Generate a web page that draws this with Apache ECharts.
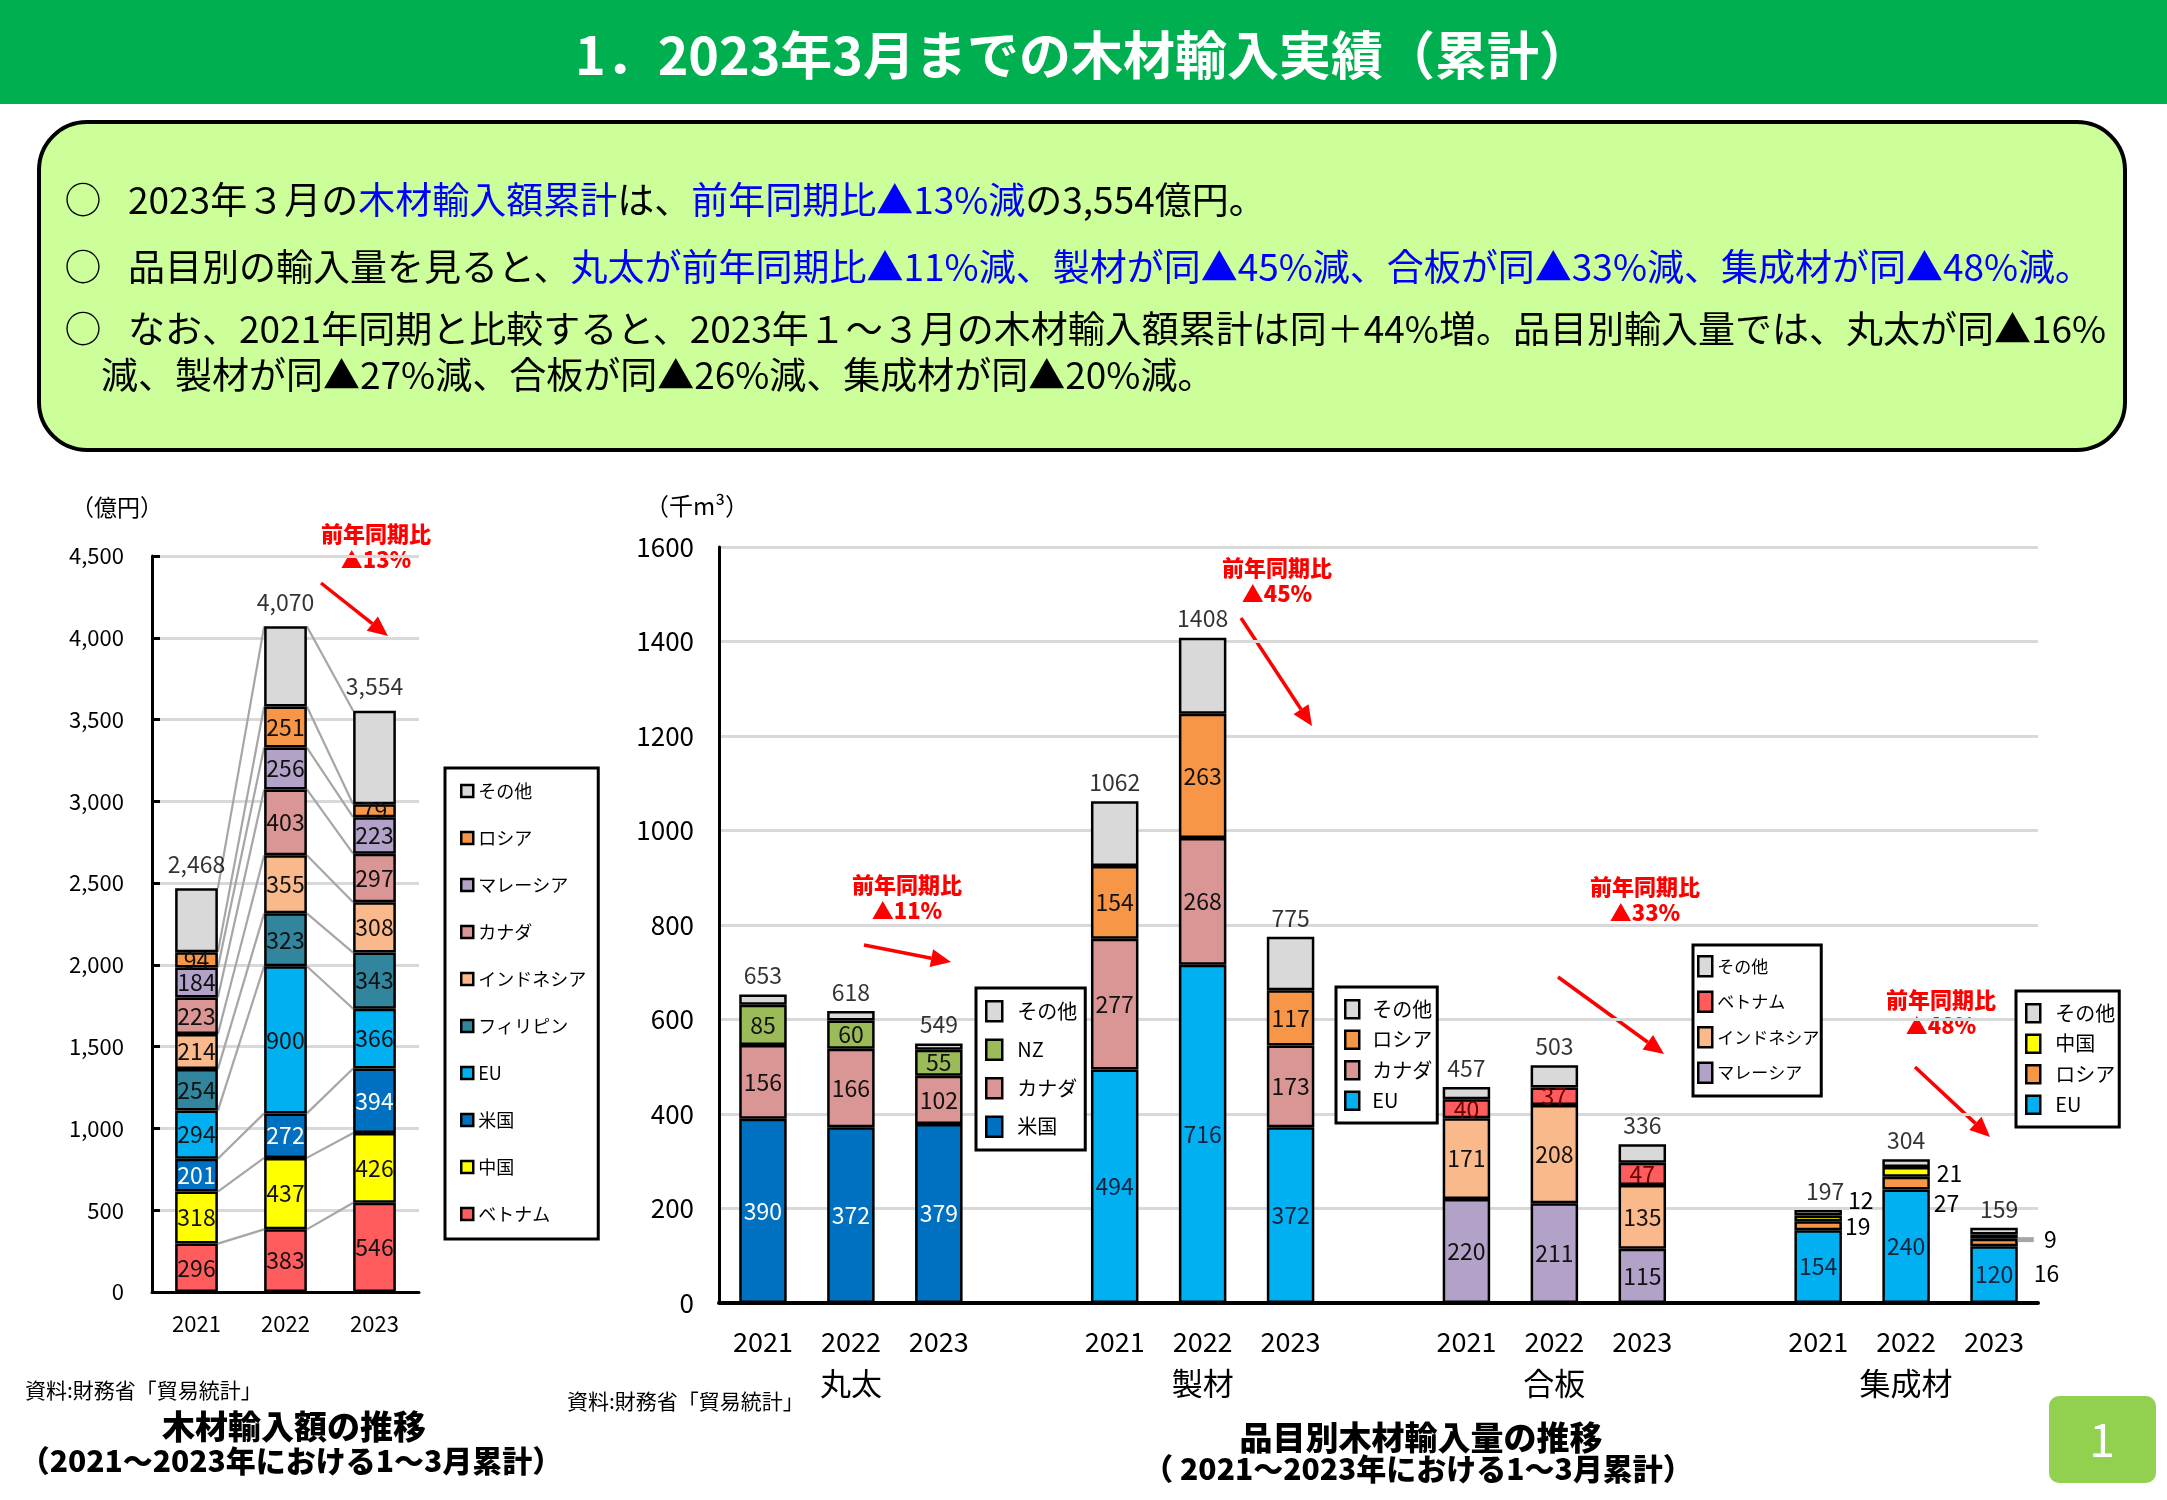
<!DOCTYPE html>
<html><head><meta charset="utf-8">
<script src="https://cdn.jsdelivr.net/npm/echarts@6/dist/echarts.min.js"></script>
<style>html,body{margin:0;padding:0;background:#fff}#c{width:2167px;height:1500px}</style>
</head><body><div id="c"></div>
<script>
const FONT = '"Noto Sans CJK JP", "Noto Sans", sans-serif';

// ---------- Left chart: 木材輸入額 (億円) ----------
const amtYears = ['2021', '2022', '2023'];
const amtVietnam = [296, 383, 546];
const amtChina = [318, 437, 426];
const amtUS = [201, 272, 394];
const amtEU = [294, 900, 366];
const amtPhilippines = [254, 323, 343];
const amtIndonesia = [214, 355, 308];
const amtCanada = [223, 403, 297];
const amtMalaysia = [184, 256, 223];
const amtRussia = [94, 251, 79];
const amtOther = [390, 490, 572];
const amtTotal = [2468, 4070, 3554];

// ---------- Right chart: 品目別木材輸入量 (千m3) ----------
const volGroups = ['丸太', '製材', '合板', '集成材'];
const volYears = ['2021', '2022', '2023'];
const marutaUS = [390, 372, 379];
const marutaCanada = [156, 166, 102];
const marutaNZ = [85, 60, 55];
const marutaOther = [22, 20, 13];
const marutaTotal = [653, 618, 549];
const seizaiEU = [494, 716, 372];
const seizaiCanada = [277, 268, 173];
const seizaiRussia = [154, 263, 117];
const seizaiOther = [137, 161, 113];
const seizaiTotal = [1062, 1408, 775];
const gohanMalaysia = [220, 211, 115];
const gohanIndonesia = [171, 208, 135];
const gohanVietnam = [40, 37, 47];
const gohanOther = [26, 47, 39];
const gohanTotal = [457, 503, 336];
const shuseiEU = [154, 240, 120];
const shuseiRussia = [19, 27, 16];
const shuseiChina = [12, 21, 9];
const shuseiOther = [12, 16, 14];
const shuseiTotal = [197, 304, 159];

// ---------- styles ----------
const COL = {
  'ベトナム': '#FF5D5D', '中国': '#FFFF00', '米国': '#0070C0', 'EU': '#00B0F0',
  'フィリピン': '#31859C', 'インドネシア': '#FAB98B', 'カナダ': '#D99694',
  'マレーシア': '#B3A2C7', 'ロシア': '#F79646', 'その他': '#D9D9D9', 'NZ': '#9BBB59'
};
const LBLCOL = { '米国': '#FFFFFF', 'EU': '#14213D', 'ベトナム': '#6A0000' };
const AMT_BAR = 0.48, VOL_BAR = 0.54;
const LBL = 23;

const amtParts = [
  ['ベトナム', amtVietnam], ['中国', amtChina], ['米国', amtUS], ['EU', amtEU],
  ['フィリピン', amtPhilippines], ['インドネシア', amtIndonesia], ['カナダ', amtCanada],
  ['マレーシア', amtMalaysia], ['ロシア', amtRussia], ['その他', amtOther]
];
const volDefs = [
  { parts: [['米国', marutaUS], ['カナダ', marutaCanada], ['NZ', marutaNZ], ['その他', marutaOther]], total: marutaTotal },
  { parts: [['EU', seizaiEU], ['カナダ', seizaiCanada], ['ロシア', seizaiRussia], ['その他', seizaiOther]], total: seizaiTotal },
  { parts: [['マレーシア', gohanMalaysia], ['インドネシア', gohanIndonesia], ['ベトナム', gohanVietnam], ['その他', gohanOther]], total: gohanTotal },
  { parts: [['EU', shuseiEU], ['ロシア', shuseiRussia], ['中国', shuseiChina], ['その他', shuseiOther]], total: shuseiTotal }
];
// outside-label placement for small 集成材 segments
const shuseiLabelPos = {
  'ロシア': [{ offset: [0, 1], distance: 3 }, { offset: [0, 20], distance: 4 }, { offset: [0, 31], distance: 16 }],
  '中国': [{ offset: [0, -18], distance: 6 }, { offset: [0, 1], distance: 7 }, { offset: [0, 3], distance: 0, line: true }]
};
const totalOffsetX = [7, 0, 5]; // 集成材 totals shifted slightly

const volKeys = [];
volGroups.forEach((g, gi) => {
  volYears.forEach(y => volKeys.push(g + y));
  if (gi < volGroups.length - 1) volKeys.push('gap' + gi);
});
const slotOf = (gi, yi) => gi * 4 + yi;

const series = [];
// connector lines (left chart)
series.push({
  type: 'custom', xAxisIndex: 0, yAxisIndex: 0, z: 1, silent: true,
  data: [[0, 0], [1, 0]], encode: { x: 0, y: 1 },
  renderItem: function (params, api) {
    const i = api.value(0);
    const half = api.size([1, 0])[0] * AMT_BAR / 2;
    const children = [];
    let ca = 0, cb = 0;
    amtParts.forEach(p => {
      ca += p[1][i]; cb += p[1][i + 1];
      const a = api.coord([i, ca]), b = api.coord([i + 1, cb]);
      children.push({ type: 'line', shape: { x1: a[0] + half, y1: a[1], x2: b[0] - half, y2: b[1] },
        style: { stroke: '#A6A6A6', lineWidth: 2.2 } });
    });
    return { type: 'group', children: children };
  }
});
amtParts.forEach(([name, arr]) => {
  series.push({
    name: name, type: 'bar', stack: 'amt', xAxisIndex: 0, yAxisIndex: 0, z: 3,
    barWidth: (AMT_BAR * 100) + '%',
    itemStyle: { color: COL[name], borderColor: '#000', borderWidth: 2.5 },
    label: { show: name !== 'その他', position: 'inside', fontSize: LBL, fontFamily: FONT,
      color: name === '米国' ? '#FFFFFF' : '#111' },
    data: arr.slice()
  });
});
series.push({
  type: 'scatter', xAxisIndex: 0, yAxisIndex: 0, symbolSize: 1, z: 5, silent: true,
  itemStyle: { color: 'rgba(0,0,0,0)' },
  label: { show: true, position: 'top', distance: 12, fontSize: 23, fontFamily: FONT, color: '#000',
    formatter: p => p.value[1].toLocaleString('en-US') },
  data: amtTotal.map((t, i) => [i, t])
});

// right chart series (single stack: each group occupies its own slots)
volDefs.forEach((def, gi) => {
  def.parts.forEach(([name, arr]) => {
    const data = new Array(volKeys.length).fill(null);
    arr.forEach((v, yi) => {
      let item = { value: v };
      if (gi === 3 && shuseiLabelPos[name]) {
        const lp = shuseiLabelPos[name][yi];
        item.label = {
          show: true, position: 'right', distance: lp.distance, offset: lp.offset, color: '#000',
          formatter: lp.line ? '{ln|}  {t|' + v + '}' : '{t|' + v + '}',
          rich: { ln: { backgroundColor: '#A6A6A6', width: 16, height: 5 }, t: { fontSize: LBL, fontFamily: FONT, color: '#000' } }
        };
      }
      data[slotOf(gi, yi)] = item;
    });
    series.push({
      name: name, type: 'bar', stack: 'vol', xAxisIndex: 1, yAxisIndex: 1, z: 3,
      barWidth: (VOL_BAR * 100) + '%',
      itemStyle: { color: COL[name], borderColor: '#000', borderWidth: 2.5 },
      label: { show: name !== 'その他' && !(gi === 3 && name !== 'EU'), position: 'inside', fontSize: LBL,
        fontFamily: FONT, color: LBLCOL[name] || '#111' },
      data: data
    });
  });
});
const volTotalsData = [];
volDefs.forEach((def, gi) => def.total.forEach((t, yi) => {
  const item = { value: [slotOf(gi, yi), t] };
  if (gi === 3) item.label = { offset: [totalOffsetX[yi], 0] };
  volTotalsData.push(item);
}));
series.push({
  type: 'scatter', xAxisIndex: 1, yAxisIndex: 1, symbolSize: 1, z: 5, silent: true,
  itemStyle: { color: 'rgba(0,0,0,0)' },
  label: { show: true, position: 'top', distance: 7, fontSize: 23, fontFamily: FONT, color: '#000',
    formatter: p => String(p.value[1]) },
  data: volTotalsData
});

// ---------- legends ----------
function legend(names, left, top, o) {
  return Object.assign({
    data: names, left: left, top: top, orient: 'vertical', icon: 'rect', selectedMode: false,
    backgroundColor: '#fff', borderColor: '#000', borderWidth: 3,
    itemStyle: { borderColor: '#000', borderWidth: 2.5 },
    textStyle: { fontFamily: FONT, fontSize: 18, color: '#000' }
  }, o);
}
const legends = [
  legend(['その他', 'ロシア', 'マレーシア', 'カナダ', 'インドネシア', 'フィリピン', 'EU', '米国', '中国', 'ベトナム'], 445, 768,
    { itemWidth: 12, itemHeight: 12, itemGap: 29, padding: [14, 12, 16, 15], textStyle: { fontFamily: FONT, fontSize: 18, color: '#000' } }),
  legend(['その他', 'NZ', 'カナダ', '米国'], 976, 988,
    { itemWidth: 16, itemHeight: 20, itemGap: 16, padding: [12, 8, 12, 9], textStyle: { fontFamily: FONT, fontSize: 20, color: '#000', padding: [0, 0, 0, 10] } }),
  legend(['その他', 'ロシア', 'カナダ', 'EU'], 1336, 987,
    { itemWidth: 14, itemHeight: 18, itemGap: 10, padding: [12, 5, 12, 8], textStyle: { fontFamily: FONT, fontSize: 20, color: '#000', padding: [0, 0, 0, 8] } }),
  legend(['その他', 'ベトナム', 'インドネシア', 'マレーシア'], 1693, 945,
    { itemWidth: 14, itemHeight: 20, itemGap: 13, padding: [10, 2, 12, 4], textStyle: { fontFamily: FONT, fontSize: 17, color: '#000' } }),
  legend(['その他', '中国', 'ロシア', 'EU'], 2016, 991,
    { itemWidth: 14, itemHeight: 18, itemGap: 10, padding: [12, 4, 12, 9], textStyle: { fontFamily: FONT, fontSize: 20, color: '#000', padding: [0, 0, 0, 10] } })
];

// ---------- decorations ----------
function txt(x, y, text, font, fill, align, extra) {
  return Object.assign({ type: 'text', x: x, y: y, silent: true,
    style: Object.assign({ text: text, font: font, fill: fill, align: align || 'left', textAlign: align || 'left',
      verticalAlign: 'middle', textVerticalAlign: 'middle' }, extra || {}) });
}
function arrow(x1, y1, x2, y2) {
  const a = Math.atan2(y2 - y1, x2 - x1), hl = 20, hw = 9;
  const bx = x2 - hl * Math.cos(a), by = y2 - hl * Math.sin(a);
  const px = -Math.sin(a) * hw, py = Math.cos(a) * hw;
  return [
    { type: 'line', silent: true, shape: { x1: x1, y1: y1, x2: bx, y2: by }, style: { stroke: '#FF0000', lineWidth: 3.5 } },
    { type: 'polygon', silent: true, shape: { points: [[x2, y2], [bx + px, by + py], [bx - px, by - py]] }, style: { fill: '#FF0000' } }
  ];
}
function note(x, y, pct) {
  const f = '900 22px ' + FONT;
  return [txt(x, y, '前年同期比', f, '#FF0000', 'center'), txt(x, y + 26, '▲' + pct, f, '#FF0000', 'center')];
}
const BF = '37px ' + FONT;
const rich = { k: { fill: '#000' }, b: { fill: '#0000FF' } };
const graphics = [
  { type: 'rect', silent: true, shape: { x: 0, y: 0, width: 2167, height: 104 }, style: { fill: '#00B050' } },
  txt(1083, 55, '1．2023年3月までの木材輸入実績（累計）', 'bold 52px ' + FONT, '#FFFFFF', 'center'),
  { type: 'rect', silent: true, shape: { x: 39, y: 122, width: 2086, height: 328, r: 48 }, style: { fill: '#CCFF99', stroke: '#000', lineWidth: 4 } },
  txt(83, 200, '○', BF, '#000', 'center'),
  txt(128, 200, '{k|2023年３月の}{b|木材輸入額累計}{k|は、}{b|前年同期比▲13%減}{k|の3,554億円。}', BF, '#000', 'left', { rich: rich }),
  txt(83, 267, '○', BF, '#000', 'center'),
  txt(128, 267, '{k|品目別の輸入量を見ると、}{b|丸太が前年同期比▲11%減、製材が同▲45%減、合板が同▲33%減、集成材が同▲48%減。}', BF, '#000', 'left', { rich: rich }),
  txt(83, 329, '○', BF, '#000', 'center'),
  txt(128, 329, 'なお、2021年同期と比較すると、2023年１～３月の木材輸入額累計は同＋44%増。品目別輸入量では、丸太が同▲16%', BF, '#000', 'left'),
  txt(101, 375, '減、製材が同▲27%減、合板が同▲26%減、集成材が同▲20%減。', BF, '#000', 'left'),
  txt(117, 507, '（億円）', '23px ' + FONT, '#000', 'center'),
  txt(697, 506, '（千m³）', '24px ' + FONT, '#000', 'center'),
  txt(25, 1390, '資料:財務省「貿易統計」', '21px ' + FONT, '#000', 'left'),
  txt(567, 1401, '資料:財務省「貿易統計」', '21px ' + FONT, '#000', 'left'),
  txt(294, 1426, '木材輸入額の推移', '900 33px ' + FONT, '#000', 'center'),
  txt(291, 1461, '（2021～2023年における1～3月累計）', '900 30px ' + FONT, '#000', 'center'),
  txt(1421, 1437, '品目別木材輸入量の推移', '900 33px ' + FONT, '#000', 'center'),
  txt(1418, 1469, '（ 2021～2023年における1～3月累計）', '900 30px ' + FONT, '#000', 'center'),
  { type: 'rect', silent: true, shape: { x: 2049, y: 1396, width: 107, height: 87, r: 10 }, style: { fill: '#92D050' } },
  txt(2102, 1440, '1', '46px ' + FONT, '#FFFFFF', 'center')
]
  .concat(note(376, 534, '13%'), arrow(321, 583, 388, 636))
  .concat(note(907, 885, '11%'), arrow(864, 945, 951, 962))
  .concat(note(1277, 568, '45%'), arrow(1241, 618, 1312, 726))
  .concat(note(1645, 887, '33%'), arrow(1558, 977, 1664, 1054))
  .concat(note(1941, 1000, '48%'), arrow(1915, 1067, 1990, 1137));

const option = {
  backgroundColor: '#fff',
  animation: false,
  textStyle: { fontFamily: FONT },
  grid: [
    { left: 152, top: 556, width: 267, height: 736 },
    { left: 719, top: 547, width: 1319, height: 756 }
  ],
  xAxis: [
    { type: 'category', gridIndex: 0, data: amtYears,
      axisLine: { lineStyle: { color: '#000', width: 3 } }, axisTick: { show: false },
      axisLabel: { fontSize: 22, color: '#000', margin: 21, fontFamily: FONT } },
    { type: 'category', gridIndex: 1, data: volKeys,
      axisLine: { lineStyle: { color: '#000', width: 4 } }, axisTick: { show: false },
      axisLabel: { interval: 0, margin: 22, color: '#000',
        formatter: (v, idx) => {
          if (idx % 4 === 3) return '';
          let s = '{y|' + volYears[idx % 4] + '}';
          if (idx % 4 === 1) s += '\n{g|' + volGroups[Math.floor(idx / 4)] + '}';
          return s;
        },
        rich: { y: { fontSize: 27, lineHeight: 34, fontFamily: FONT, color: '#000' },
                g: { fontSize: 31, lineHeight: 48, fontFamily: FONT, color: '#000' } } } }
  ],
  yAxis: [
    { type: 'value', gridIndex: 0, min: 0, max: 4500, interval: 500,
      axisLine: { show: true, lineStyle: { color: '#000', width: 3 } },
      axisTick: { show: true, inside: true, length: 8, lineStyle: { color: '#000', width: 3 } },
      axisLabel: { fontSize: 22, color: '#000', margin: 28, fontFamily: FONT, formatter: v => v.toLocaleString('en-US') },
      splitLine: { lineStyle: { color: '#D9D9D9', width: 3 } } },
    { type: 'value', gridIndex: 1, min: 0, max: 1600, interval: 200,
      axisLine: { show: true, lineStyle: { color: '#000', width: 3 } },
      axisTick: { show: false },
      axisLabel: { fontSize: 26, color: '#000', margin: 25, fontFamily: FONT, formatter: v => String(v) },
      splitLine: { lineStyle: { color: '#D9D9D9', width: 3 } } }
  ],
  legend: legends,
  series: series,
  graphic: { elements: graphics }
};
const chart = echarts.init(document.getElementById('c'), null, { width: 2167, height: 1500 });
chart.setOption(option);
</script>
</body></html>
